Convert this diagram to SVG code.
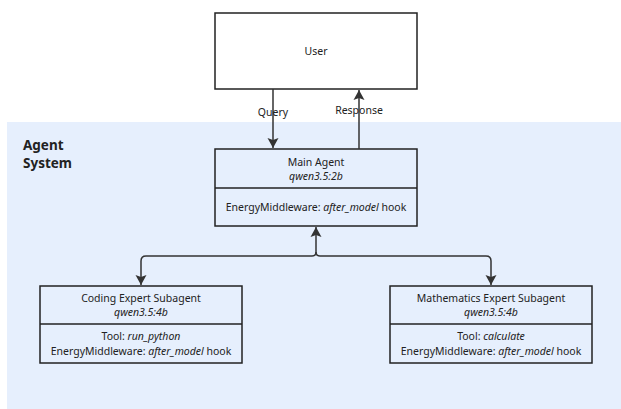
<svg xmlns="http://www.w3.org/2000/svg" width="621" height="409" viewBox="0 0 621 409">
<style>
text{font-family:"Noto Sans","Open Sans",sans-serif;font-size:10.5px;fill:#222;text-anchor:middle}
.i{font-style:italic}
.box{fill:#e6effd;stroke:#222;stroke-width:1.5}
.wbox{fill:#fff;stroke:#222;stroke-width:1.5}
.edge{fill:none;stroke:#333;stroke-width:1.5}
.title{font-weight:bold;font-size:13.5px;text-anchor:start}
</style>
<defs>
<marker id="ah" markerWidth="12" markerHeight="12" refX="10" refY="6" orient="auto" markerUnits="userSpaceOnUse">
<path d="M0,0.5 L10,6 L0,11.5 L2,6 z" fill="#333"/>
</marker>
</defs>
<g id="agent-system">
<rect x="7" y="122" width="614" height="287" fill="#e6effd"/>
<text class="title" x="23" y="150">Agent</text>
<text class="title" x="23" y="168">System</text>
</g>
<g id="user">
<rect class="wbox" x="215" y="13" width="202" height="76"/>
<text x="316" y="55">User</text>
</g>
<g id="main-agent">
<rect class="box" x="215" y="149" width="202" height="77"/>
<line x1="215" y1="188" x2="417" y2="188" stroke="#222" stroke-width="1.5"/>
<text x="316" y="166">Main Agent</text>
<text class="i" x="316" y="180">qwen3.5:2b</text>
<text x="316" y="211">EnergyMiddleware: <tspan class="i">after_model</tspan> hook</text>
</g>
<g id="coding">
<rect class="box" x="40" y="286" width="202" height="77"/>
<line x1="40" y1="324" x2="242" y2="324" stroke="#222" stroke-width="1.5"/>
<text x="141" y="302">Coding Expert Subagent</text>
<text class="i" x="141" y="316">qwen3.5:4b</text>
<text x="141" y="340">Tool: <tspan class="i">run_python</tspan></text>
<text x="141" y="355">EnergyMiddleware: <tspan class="i">after_model</tspan> hook</text>
</g>
<g id="math">
<rect class="box" x="390" y="286" width="202" height="77"/>
<line x1="390" y1="324" x2="592" y2="324" stroke="#222" stroke-width="1.5"/>
<text x="491" y="302">Mathematics Expert Subagent</text>
<text class="i" x="491" y="316">qwen3.5:4b</text>
<text x="491" y="340">Tool: <tspan class="i">calculate</tspan></text>
<text x="491" y="355">EnergyMiddleware: <tspan class="i">after_model</tspan> hook</text>
</g>
<g id="connectors">
<path class="edge" d="M273,89 V148" marker-end="url(#ah)"/>
<path class="edge" d="M359,149 V90" marker-end="url(#ah)"/>
<path class="edge" d="M316,252 Q316,256 312,256 H146 Q141,256 141,261 V285" marker-end="url(#ah)"/>
<path class="edge" d="M316,252 Q316,256 320,256 H486 Q491,256 491,261 V285" marker-end="url(#ah)"/>
<path class="edge" d="M316,252 V227" marker-end="url(#ah)"/>
<text x="273" y="116">Query</text>
<text x="359" y="114">Response</text>
</g>
</svg>
